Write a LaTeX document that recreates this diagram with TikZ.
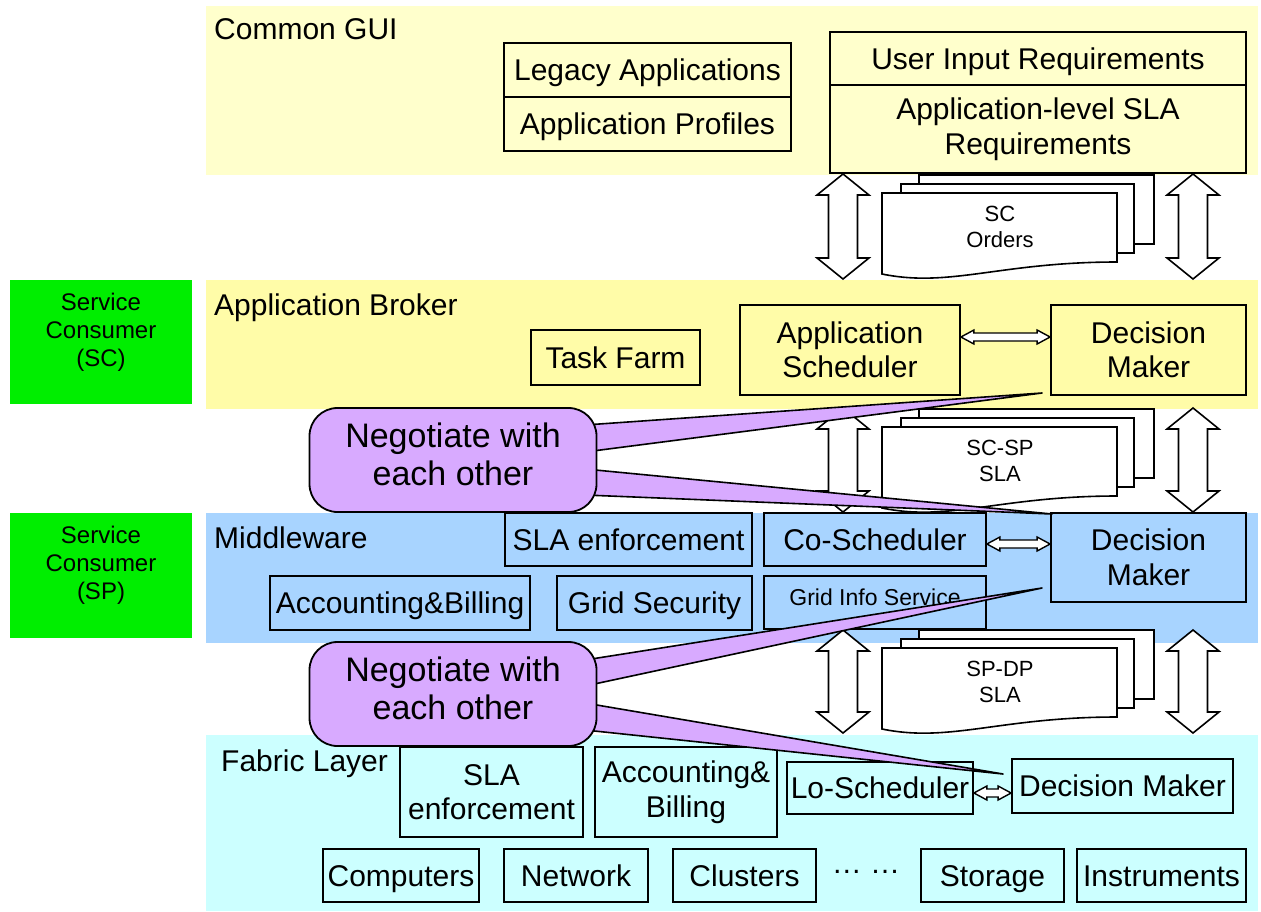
\documentclass[tikz,border=0pt]{standalone}
\usepackage{fontspec}
\setmainfont{Liberation Sans}
\usetikzlibrary{calc}
\definecolor{guiY}{HTML}{FFFFCC}
\definecolor{brkY}{HTML}{FFFCA8}
\definecolor{mwB}{HTML}{A8D4FF}
\definecolor{fabC}{HTML}{CCFFFF}
\definecolor{scG}{HTML}{00EE00}
\definecolor{negP}{HTML}{D8AAFF}
\newcommand\bx[7][]{\node[box,one,#1,minimum width={#5-#3},minimum height={#6-#4}] (#2) at ({(#3+#5)/2},{(#4+#6)/2}) {#7};}
\newcommand\docstack[3]{%
 \filldraw[sheet] (919,{#1-18}) rectangle (1154,{#1+51});
 \filldraw[sheet] (901,{#1-9}) rectangle (1134,{#1+60});
 \filldraw[sheet] (882,{#1+81}) -- (882,#1) -- (1117,#1) -- (1117,{#1+69}) .. controls (1000,{#1+69}) and (950,{#1+95}) .. (882,{#1+81}) -- cycle;
 \node[font=\fontsize{22}{26}\selectfont, align=center, inner sep=0pt] (#2) at (1000,{#1+34}) {#3};}
\tikzset{
 box/.style={draw, line width=1.8pt, inner sep=0pt, align=center},
 one/.style={text height=21.5pt, text depth=0pt},
 two/.style={text height=, text depth=},
 sheet/.style={fill=white, draw=black, line width=1.6pt},
 lbl/.style={anchor=west, inner sep=0pt, one},
 wedge/.style={fill=negP, draw=black, line width=1.6pt, line join=round},
 negbox/.style={fill=negP, draw=black, line width=1.8pt, rounded corners=28pt, minimum width=287pt, minimum height=104pt, align=center, inner sep=0pt, text depth=12pt, font=\fontsize{34}{38}\selectfont},
 sidebox/.style={fill=scG, minimum width=182pt, align=center, inner sep=0pt, text depth=24pt, font=\fontsize{24}{28}\selectfont},
 vdarr/.style={fill=white, draw=black, line width=1.6pt, line join=miter,
  to path={let \p1=(\tikztostart), \p2=(\tikztotarget) in
   (\x1,\y1) -- (\x1+26pt,\y1-21pt) -- (\x1+14.5pt,\y1-21pt) -- (\x1+14.5pt,\y2+21pt) -- (\x1+26pt,\y2+21pt) -- (\x1,\y2)
   -- (\x1-26pt,\y2+21pt) -- (\x1-14.5pt,\y2+21pt) -- (\x1-14.5pt,\y1-21pt) -- (\x1-26pt,\y1-21pt) -- cycle}},
 hdarr/.style={fill=white, draw=black, line width=1.4pt, line join=miter,
  to path={let \p1=(\tikztostart), \p2=(\tikztotarget) in
   (\x1,\y1) -- (\x1+13pt,\y1+7pt) -- (\x1+13pt,\y1+4pt) -- (\x2-13pt,\y1+4pt) -- (\x2-13pt,\y1+7pt) -- (\x2,\y1)
   -- (\x2-13pt,\y1-7pt) -- (\x2-13pt,\y1-4pt) -- (\x1+13pt,\y1-4pt) -- (\x1+13pt,\y1-7pt) -- cycle}},
}
\begin{document}
\begin{tikzpicture}[x=1pt,y=-1pt,font=\fontsize{30}{34.5}\selectfont]
\useasboundingbox (0,0) rectangle (1261,911);
\fill[white] (0,0) rectangle (1261,911);
% bands
\fill[guiY] (206,6) rectangle (1258,175);
\fill[brkY] (206,280) rectangle (1258,409);
\fill[mwB] (206,513) rectangle (1258,643);
\fill[fabC] (206,735) rectangle (1258,911);
\node[lbl] (lgui) at (214,29) {Common GUI};
\node[lbl] (lbrk) at (214,305) {Application Broker};
\node[lbl] (lmw) at (214,538) {Middleware};
\node[lbl] (lfab) at (221,761) {Fabric Layer};
% green side boxes
\node[sidebox, minimum height=124pt] (sc) at (101,341.5) {Service\\Consumer\\(SC)};
\node[sidebox, minimum height=125pt] (sp) at (101,575) {Service\\Consumer\\(SP)};
% document stacks
\docstack{193}{scord}{SC\\Orders}
\docstack{427}{scsp}{SC-SP\\SLA}
\docstack{648}{spdp}{SP-DP\\SLA}
% Common GUI boxes
\bx[fill=guiY]{legacy}{504}{43}{791}{97}{Legacy Applications}
\bx[fill=guiY]{profiles}{504}{97}{791}{151}{Application Profiles}
\bx[fill=guiY]{uinput}{830}{32}{1246}{85}{User Input Requirements}
\bx[fill=guiY,two]{req}{830}{85}{1246}{173}{Application-level SLA\\Requirements}
% Application broker boxes
\bx[fill=brkY]{taskfarm}{531}{330}{700}{385}{Task Farm}
\bx[fill=brkY,two]{appsch}{740}{305}{960}{395}{Application\\Scheduler}
\bx[fill=brkY,two]{dma}{1051}{305}{1246}{395}{Decision\\Maker}
% Middleware boxes
\bx[fill=mwB]{slaenf}{505}{513}{752}{566}{SLA enforcement}
\bx[fill=mwB]{cosch}{764}{513}{986}{566}{Co-Scheduler}
\bx[fill=mwB,two]{dmb}{1051}{513}{1246}{602}{Decision\\Maker}
\bx[fill=mwB]{accb}{270}{576}{530}{630}{Accounting\&Billing}
\bx[fill=mwB]{gsec}{557}{576}{752}{630}{Grid Security}
\bx[fill=mwB, font=\fontsize{23}{26}\selectfont, text height=16.5pt, text depth=11.5pt]{ginfo}{764}{576}{986}{629}{Grid Info Service}
% Fabric boxes
\bx[fill=fabC,two]{fslaenf}{400}{747}{583}{837}{SLA\\enforcement}
\bx[fill=fabC,two]{facc}{595}{747}{777}{837}{Accounting\&\\Billing}
\bx[fill=fabC]{losch}{787}{762}{973}{814}{Lo-Scheduler}
\bx[fill=fabC]{dmc}{1012}{759}{1233}{813}{Decision Maker}
\bx[fill=fabC]{comp}{323}{849}{479}{902}{Computers}
\bx[fill=fabC]{net}{504}{849}{648}{902}{Network}
\bx[fill=fabC]{clus}{673}{849}{816}{902}{Clusters}
\node[inner sep=0pt, one] (dots) at (866,863) {… …};
\bx[fill=fabC]{stor}{921}{849}{1064}{902}{Storage}
\bx[fill=fabC]{instr}{1077}{849}{1246}{902}{Instruments}
% vertical double arrows
\coordinate (a1lt) at (843,174); \coordinate (a1lb) at (843,279);
\coordinate (a1rt) at (1193,174); \coordinate (a1rb) at (1193,279);
\coordinate (a2lt) at (843,408); \coordinate (a2lb) at (843,512);
\coordinate (a2rt) at (1193,408); \coordinate (a2rb) at (1193,512);
\coordinate (a3lt) at (843,630); \coordinate (a3lb) at (843,733);
\coordinate (a3rt) at (1193,630); \coordinate (a3rb) at (1193,733);
\draw[vdarr] (a1lt) to (a1lb);
\draw[vdarr] (a1rt) to (a1rb);
\draw[vdarr] (a2lt) to (a2lb);
\draw[vdarr] (a2rt) to (a2rb);
\draw[vdarr] (a3lt) to (a3lb);
\draw[vdarr] (a3rt) to (a3rb);
% horizontal double arrows
\draw[hdarr] ([yshift=13pt]appsch.east) to ([yshift=13pt]dma.west);
\draw[hdarr] ([yshift=-4.5pt]cosch.east) to (dmb.west);
\draw[hdarr] ([yshift=-5pt]losch.east) to (dmc.west);
% callout pointers
\coordinate (t1) at (1042,393); \coordinate (t2) at (1052,514);
\coordinate (t3) at (1042,588); \coordinate (t4) at (1003,774);
\filldraw[wedge] (585,425) -- (t1) -- (585,452) -- cycle;
\filldraw[wedge] (585,469) -- (t2) -- (585,495) -- cycle;
\filldraw[wedge] (585,660) -- (t3) -- (585,686) -- cycle;
\filldraw[wedge] (585,703) -- (t4) -- (585,730) -- cycle;
\node[negbox] (neg1) at (453,460) {Negotiate with\\each other};
\node[negbox] (neg2) at (453,694) {Negotiate with\\each other};
\end{tikzpicture}
\end{document}
